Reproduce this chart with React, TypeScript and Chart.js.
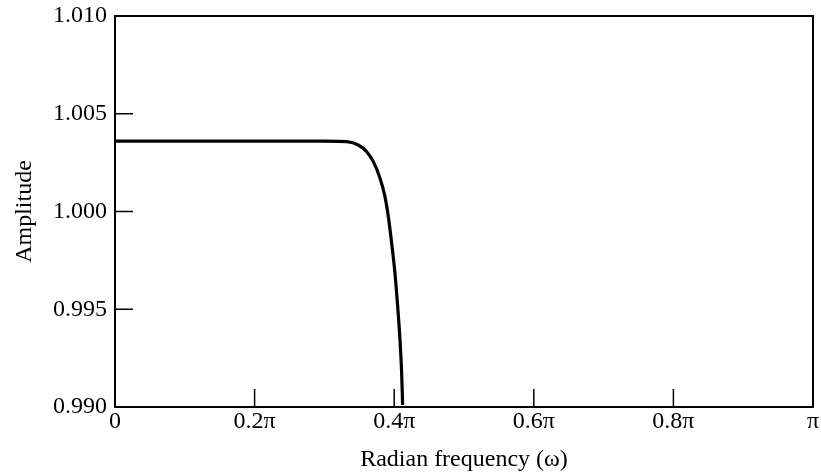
import React, { useEffect, useRef } from "react";
import { Chart, registerables } from "chart.js";

Chart.register(...registerables);

// Radian frequency in units of pi
const omega = [0, 0.1, 0.2, 0.3, 0.332, 0.3486, 0.3606, 0.3701, 0.3797, 0.3868, 0.3916, 0.3964, 0.4011, 0.405, 0.4083, 0.4107, 0.4121];
const amplitude = [1.0036, 1.0036, 1.0036, 1.0036, 1.00357, 1.0034, 1.00306, 1.00255, 1.0017, 1.00076, 0.99973, 0.99837, 0.99684, 0.99513, 0.99343, 0.99172, 0.9901];

const xTicks = [0, 0.2, 0.4, 0.6, 0.8, 1];
const yTicks = [0.99, 0.995, 1.0, 1.005, 1.01];

const FONT = "'Liberation Serif', 'Times New Roman', serif";

const frameTicks = {
  id: "frameTicks",
  beforeDatasetsDraw(chart: any) {
    const { ctx, chartArea: a, scales } = chart;
    ctx.save();
    ctx.strokeStyle = "#000";
    ctx.lineWidth = 2;
    ctx.strokeRect(a.left, a.top, a.right - a.left, a.bottom - a.top);
    ctx.lineWidth = 1.5;
    const L = 18;
    xTicks.forEach((v) => {
      if (v <= 0 || v >= 1) return;
      const px = scales.x.getPixelForValue(v);
      ctx.beginPath();
      ctx.moveTo(px, a.bottom);
      ctx.lineTo(px, a.bottom - L);
      ctx.stroke();
    });
    yTicks.forEach((v) => {
      if (v <= 0.99 || v >= 1.01) return;
      const py = scales.y.getPixelForValue(v);
      ctx.beginPath();
      ctx.moveTo(a.left, py);
      ctx.lineTo(a.left + L, py);
      ctx.stroke();
    });
    ctx.restore();
  },
};

export default function App() {
  const ref = useRef<HTMLCanvasElement>(null);
  useEffect(() => {
    document.body.style.margin = "0";
    const canvas = ref.current!;
    const chart = new Chart(canvas, {
      type: "line",
      data: {
        datasets: [
          {
            data: omega.map((x, i) => ({ x, y: amplitude[i] })),
            borderColor: "#000",
            borderWidth: 3.2,
            pointRadius: 0,
            cubicInterpolationMode: "monotone",
            fill: false,
          },
        ],
      },
      options: {
        animation: false,
        responsive: false,
        devicePixelRatio: 1,
        layout: { padding: { top: 16, right: 8, left: 0, bottom: 0 } },
        plugins: { legend: { display: false }, tooltip: { enabled: false } },
        scales: {
          x: {
            type: "linear",
            min: 0,
            max: 1,
            grid: { display: false, drawTicks: false },
            border: { display: false },
            afterBuildTicks: (scale: any) => {
              scale.ticks = xTicks.map((v) => ({ value: v }));
            },
            afterFit: (scale: any) => {
              scale.height = 68;
              scale.paddingLeft = 0;
              scale.paddingRight = 0;
            },
            ticks: {
              autoSkip: false,
              maxRotation: 0,
              padding: 0,
              color: "#000",
              font: { family: FONT, size: 24 },
              callback: (v: any) => {
                const r = Math.round(Number(v) * 10) / 10;
                if (r === 0) return "0";
                if (r === 1) return "π";
                return `${r}π`;
              },
            },
            title: {
              display: true,
              text: "Radian frequency (ω)",
              color: "#000",
              font: { family: FONT, size: 24 },
              padding: { top: 0, bottom: 1 },
            },
          },
          y: {
            type: "linear",
            min: 0.99,
            max: 1.01,
            grid: { display: false, drawTicks: false },
            border: { display: false },
            afterBuildTicks: (scale: any) => {
              scale.ticks = yTicks.map((v) => ({ value: v }));
            },
            afterFit: (scale: any) => {
              scale.width = 115;
              scale.paddingTop = 0;
              scale.paddingBottom = 0;
            },
            ticks: {
              autoSkip: false,
              padding: 8,
              color: "#000",
              font: { family: FONT, size: 24 },
              callback: (v: any) => Number(v).toFixed(3),
            },
            title: {
              display: true,
              text: "Amplitude",
              color: "#000",
              font: { family: FONT, size: 24 },
              padding: { top: 10, bottom: 0 },
            },
          },
        },
      },
      plugins: [frameTicks],
    } as any);
    return () => chart.destroy();
  }, []);
  return (
    <div style={{ position: "absolute", left: 0, top: 0, width: 821, height: 475, background: "#fff" }}>
      <canvas ref={ref} width={821} height={475} />
    </div>
  );
}
